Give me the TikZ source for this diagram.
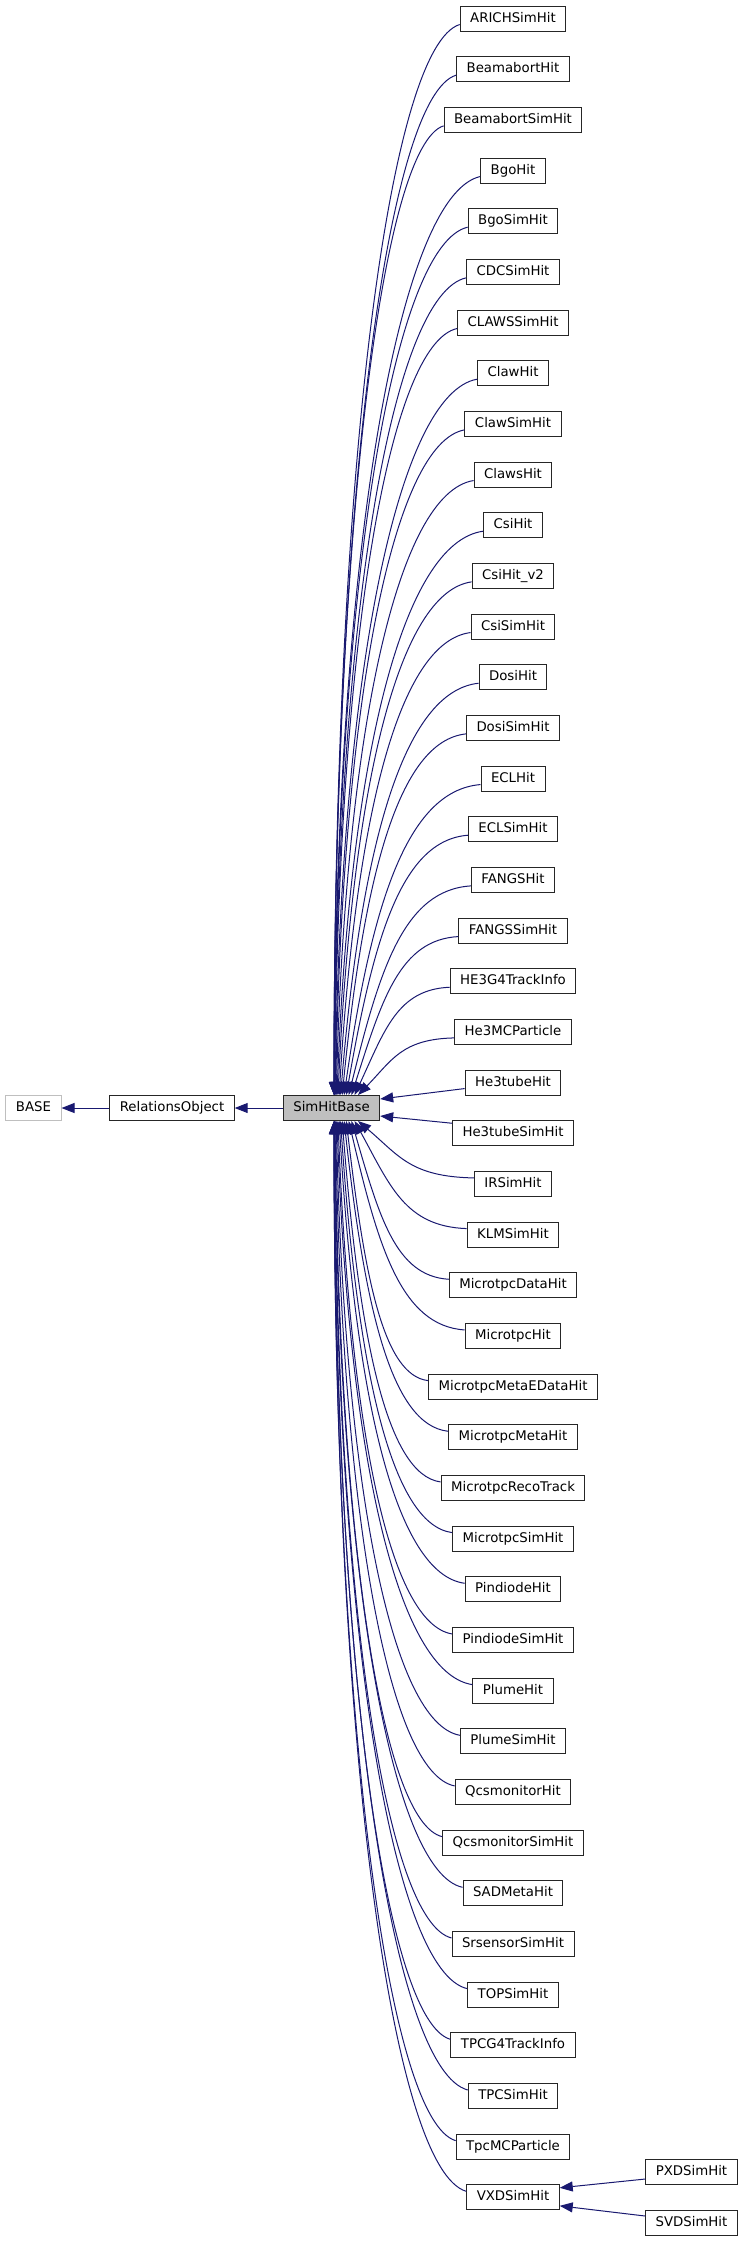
\documentclass[tikz,border=0pt]{standalone}
\usepackage{fontspec}
\setmainfont{DejaVu Sans}
\usetikzlibrary{arrows.meta,calc}
\definecolor{mblue}{HTML}{191970}
\definecolor{bordergray}{HTML}{BFBFBF}
\newcommand{\nodefnt}{\fontsize{13.3}{16}\selectfont}
\begin{document}
\begin{tikzpicture}[x=1pt,y=-1pt,
  box/.style={draw=black!85, line width=1pt, fill=white, font=\nodefnt,
    minimum height=25pt, inner xsep=10pt, inner ysep=0pt, text height=10pt, text depth=3pt},
  edge/.style={draw=mblue, line width=1pt, -{Triangle[length=13pt,width=10pt]}, fill=none},
  tip/.style={mblue}]
\useasboundingbox (0,0) rectangle (744,2241);

\node[box, draw=bordergray] (base) at (33.5,1108) {BASE};
\node[box] (ro) at (172,1108) {RelationsObject};
\node[box, fill=black!25] (sb) at (331.5,1108) {SimHitBase};

\foreach \nm [count=\i from 0] in {ARICHSimHit, BeamabortHit, BeamabortSimHit, BgoHit, BgoSimHit,
  CDCSimHit, CLAWSSimHit, ClawHit, ClawSimHit, ClawsHit, CsiHit, CsiHit\_v2, CsiSimHit, DosiHit,
  DosiSimHit, ECLHit, ECLSimHit, FANGSHit, FANGSSimHit, HE3G4TrackInfo, He3MCParticle, He3tubeHit,
  He3tubeSimHit, IRSimHit, KLMSimHit, MicrotpcDataHit, MicrotpcHit, MicrotpcMetaEDataHit,
  MicrotpcMetaHit, MicrotpcRecoTrack, MicrotpcSimHit, PindiodeHit, PindiodeSimHit, PlumeHit,
  PlumeSimHit, QcsmonitorHit, QcsmonitorSimHit, SADMetaHit, SrsensorSimHit, TOPSimHit,
  TPCG4TrackInfo, TPCSimHit, TpcMCParticle, VXDSimHit} {
  \node[box] (n\i) at (513,{18.5+\i*50.67}) {\nm};
}
\node[box] (pxd) at (691.5,2171.5) {PXDSimHit};
\node[box] (svd) at (691.5,2222.5) {SVDSimHit};

% upper fan
\foreach \i in {0,...,20} {
  \pgfmathsetmacro\m{20-\i}
  \pgfmathsetmacro\dx{2.5+24*(1-\m/20)^3}
  \pgfmathsetmacro\f{(1-\m/20)^2}
  \draw[edge] let \p1=($(n\i.west)+(0,6)$), \p2=($(sb.north)+(\dx,0)$) in
    (\p1) .. controls ({\x1-0.55*(\x1-\x2)},{\y1-0.02*(\y1-\y2)})
    and ({\x2+0.35*\f*(\x1-\x2)},{\y2+0.6*(\y1-\y2)}) .. (\p2);
}
% lower fan
\foreach \i in {23,...,43} {
  \pgfmathsetmacro\m{\i-23}
  \pgfmathsetmacro\dx{2.5+24*(1-\m/20)^3}
  \pgfmathsetmacro\f{(1-\m/20)^2}
  \draw[edge] let \p1=($(n\i.west)+(0,-6)$), \p2=($(sb.south)+(\dx,0)$) in
    (\p1) .. controls ({\x1-0.55*(\x1-\x2)},{\y1+0.02*(\y2-\y1)})
    and ({\x2+0.35*\f*(\x1-\x2)},{\y2-0.6*(\y2-\y1)}) .. (\p2);
}
% side edges
\draw[edge] ($(n21.west)+(0,6)$) -- ($(sb.east)+(0,-9)$);
\draw[edge] ($(n22.west)+(0,-10)$) -- ($(sb.east)+(0,8)$);

\draw[edge] (sb.west) -- (ro.east);
\draw[edge] (ro.west) -- (base.east);

\draw[edge] ($(pxd.west)+(0,7.5)$) -- ($(n43.east)+(0,-9.5)$);
\draw[edge] ($(svd.west)+(0,-6.5)$) -- ($(n43.east)+(0,8.5)$);
\end{tikzpicture}
\end{document}
